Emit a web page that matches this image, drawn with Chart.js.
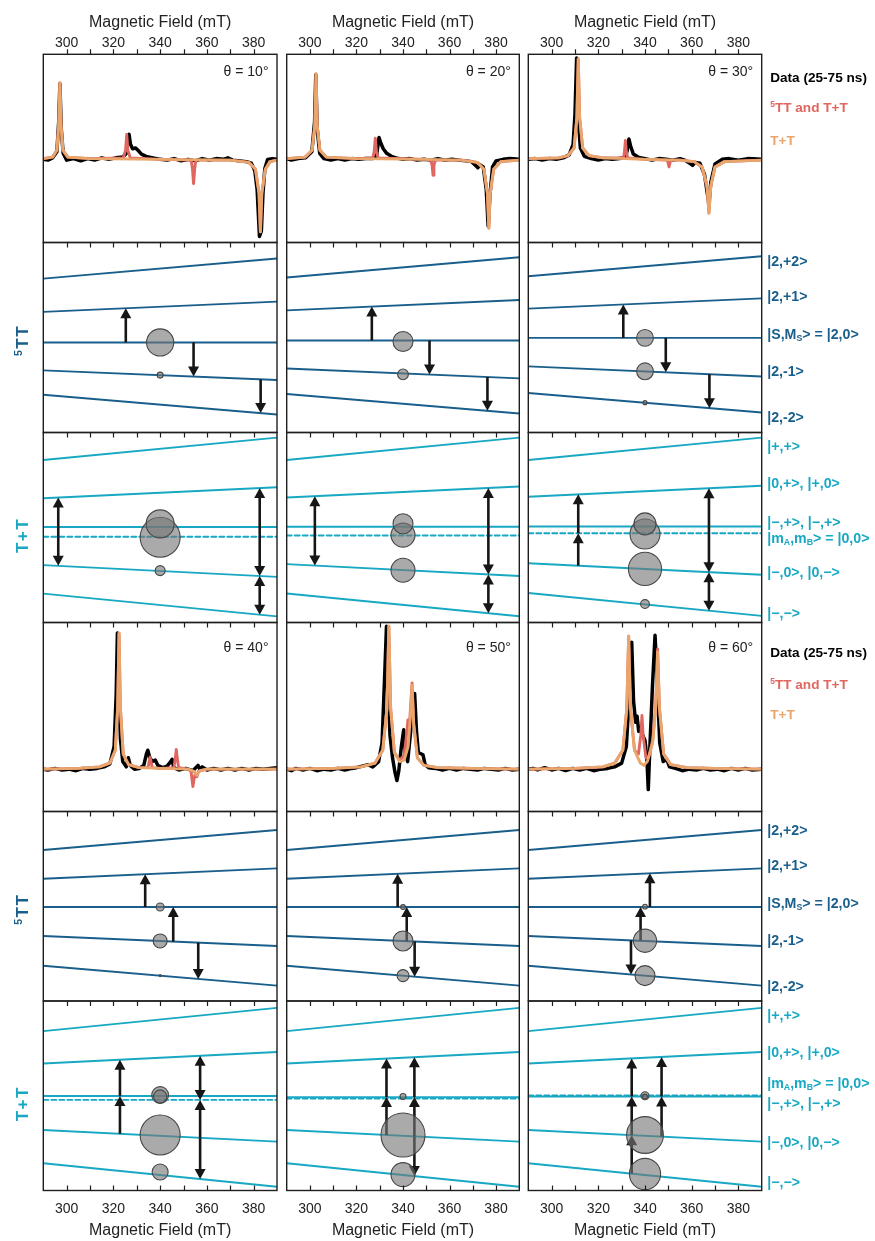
<!DOCTYPE html>
<html>
<head>
<meta charset="utf-8">
<script src="https://cdn.jsdelivr.net/npm/chart.js@4.4.0/dist/chart.umd.min.js"></script>
<style>
  body { margin: 0; background: #fff; }
  #fig { position: relative; width: 875px; height: 1241px; overflow: hidden; }
  #fig canvas { position: absolute; }
</style>
</head>
<body>
<div id="fig"></div>
<script>
// ---------- data ----------
const fieldTicks = [300, 320, 340, 360, 380];
const minorTicks = [300, 310, 320, 330, 340, 350, 360, 370, 380];
const anglesTop = [10, 20, 30];
const anglesBottom = [40, 50, 60];

// spectra: [field mT, intensity]
const data10 = [[290,0.0],[292,-0.01],[294,0.02],[295.8,0.1],[296.6,0.5],[297.1,1.0],[297.7,0.4],[298.5,0.08],[300,-0.01],[303,0.01],[306,-0.02],[309,0.01],[312,-0.01],[315,0.02],[318,0.0],[321,0.02],[324,0.03],[325.6,0.08],[326.3,0.3],[326.7,0.33],[327.3,0.2],[328.2,0.14],[329.5,0.15],[330.5,0.12],[332,0.07],[334,0.04],[337,0.02],[340,0.0],[343,-0.01],[346,0.01],[349,-0.02],[352,0.0],[355,-0.02],[358,0.01],[361,-0.01],[364,0.01],[367,0.0],[369,0.02],[371,-0.01],[374,-0.02],[377,-0.03],[379,-0.05],[380.5,-0.15],[381.5,-0.4],[382.5,-1.02],[383.3,-0.95],[384,-0.45],[384.8,-0.12],[386,0.0],[388,0.01],[390,0.0]];
const both10 = [[290,0.01],[294,0.03],[295.8,0.12],[296.6,0.45],[297.1,1.01],[297.6,0.45],[298.4,0.12],[300.5,0.03],[310,0.01],[324.2,0.02],[325.2,0.12],[325.7,0.33],[326.2,0.12],[327.2,0.02],[340,0],[353.3,-0.01],[353.8,-0.12],[354.3,-0.32],[354.8,-0.12],[355.3,-0.01],[370,-0.01],[378,-0.04],[380.8,-0.13],[382.3,-0.45],[382.9,-0.96],[383.5,-0.45],[385,-0.13],[387,-0.03],[390,-0.01]];
const tt10 = [[290,0.01],[294,0.03],[295.8,0.12],[296.6,0.45],[297.1,1.01],[297.6,0.45],[298.4,0.12],[300.5,0.03],[310,0.01],[340,0],[370,-0.01],[378,-0.04],[380.8,-0.13],[382.3,-0.45],[382.9,-0.96],[383.5,-0.45],[385,-0.13],[387,-0.03],[390,-0.01]];

const data20 = [[290,0.01],[292,-0.01],[295,0.01],[298,0.02],[300.8,0.1],[302,0.5],[302.5,1.12],[303.1,0.4],[304.2,0.08],[306,0.01],[309,-0.01],[312,0.01],[315,-0.01],[318,0.01],[321,0],[324,0.01],[327,0.01],[328.6,0.04],[329.2,0.18],[329.7,0.29],[330.4,0.22],[331.5,0.14],[333,0.08],[335,0.04],[337,0.02],[340,0],[343,0.01],[346,-0.01],[349,0.0],[352,-0.01],[355,0.01],[358,-0.01],[361,0.0],[364,-0.01],[367,-0.02],[369.5,-0.03],[371.2,-0.08],[372.2,-0.11],[373,-0.07],[374.5,-0.1],[375.8,-0.4],[376.6,-0.88],[377.3,-0.5],[378.5,-0.1],[380,-0.02],[383,0.0],[386,0.01],[390,0]];
const both20 = [[290,0.01],[298,0.03],[300.9,0.12],[302.1,0.45],[302.6,1.13],[303.1,0.45],[304.3,0.12],[307,0.03],[320,0.01],[327,0.02],[327.6,0.1],[328.1,0.28],[328.6,0.1],[329.3,0.02],[350,0],[352,-0.01],[352.5,-0.08],[352.9,-0.21],[353.3,-0.08],[353.9,-0.01],[365,-0.01],[372,-0.04],[374.8,-0.13],[376.3,-0.45],[376.9,-0.91],[377.5,-0.45],[379,-0.13],[382,-0.03],[390,-0.01]];
const tt20 = [[290,0.01],[298,0.03],[300.9,0.12],[302.1,0.45],[302.6,1.13],[303.1,0.45],[304.3,0.12],[307,0.03],[320,0.01],[350,0],[365,-0.01],[372,-0.04],[374.8,-0.13],[376.3,-0.45],[376.9,-0.91],[377.5,-0.45],[379,-0.13],[382,-0.03],[390,-0.01]];

const data30 = [[290,0.0],[293,0.01],[296,-0.01],[299,0.01],[302,0],[305,0.02],[307.5,0.06],[309.2,0.2],[310,0.6],[310.7,1.34],[311.3,0.6],[312.3,0.15],[314,0.04],[317,0.01],[320,-0.01],[323,0.01],[326,0],[329,0.01],[331.5,0.02],[332.4,0.12],[333.1,0.27],[333.8,0.18],[335,0.07],[337,0.03],[340,0.01],[343,-0.01],[346,0.01],[349,0],[352,-0.01],[355,0.01],[357,-0.01],[359.5,-0.06],[360.4,-0.08],[361.5,-0.04],[363.5,-0.05],[365.5,-0.2],[366.7,-0.45],[367.4,-0.58],[368.2,-0.3],[370,-0.06],[373,0],[376,0.01],[380,-0.01],[384,0.01],[390,0]];
const both30 = [[290,0.01],[303,0.02],[307,0.05],[309.6,0.15],[310.8,0.55],[311.4,1.33],[312,0.55],[313.3,0.15],[316,0.05],[322,0.02],[330.8,0.02],[331.2,0.1],[331.6,0.25],[332,0.1],[332.6,0.02],[340,0],[349.6,-0.01],[350.3,-0.1],[351,-0.01],[355,-0.01],[361,-0.03],[364.3,-0.1],[365.4,-0.22],[366.6,-0.38],[367.4,-0.71],[368.2,-0.35],[370,-0.1],[374,-0.03],[390,-0.01]];
const tt30 = [[290,0.01],[303,0.02],[307,0.05],[309.6,0.15],[310.8,0.55],[311.4,1.33],[312,0.55],[313.3,0.15],[316,0.05],[322,0.02],[340,0],[355,-0.01],[361,-0.03],[364.5,-0.1],[366.6,-0.35],[367.4,-0.71],[368.2,-0.35],[370,-0.1],[374,-0.03],[390,-0.01]];

const data40 = [[290,0],[292,-0.01],[295,0.01],[298,-0.01],[301,0],[304,-0.02],[307,0.01],[310,0],[313,0.01],[316,0.03],[318.5,0.07],[320.3,0.3],[321.2,1.0],[321.7,1.8],[322.3,1.2],[323,0.4],[324,0.1],[325.5,0.03],[326.4,0.15],[327.2,0.05],[329,0],[331,0.01],[333,0.05],[334.1,0.2],[334.7,0.25],[335.5,0.16],[336.5,0.1],[337.9,0.12],[339,0.05],[341,0.02],[343,0.04],[344.5,0.1],[345.1,0.13],[345.8,0.02],[348,-0.01],[351,0.01],[354,-0.02],[356.2,0.05],[357,0.0],[358,0.03],[360,-0.01],[363,0.01],[366,-0.01],[369,0.01],[372,-0.01],[375,0.01],[378,-0.01],[381,0.01],[384,0],[387,0.01],[390,0.02]];
const both40 = [[290,0],[305,0.01],[314,0.03],[318.5,0.08],[320.8,0.25],[321.8,0.8],[322.4,1.8],[323,0.8],[324.2,0.2],[326.5,0.06],[331,0.02],[334.8,0.02],[335.3,0.1],[335.7,0.16],[336.1,0.1],[336.6,0.02],[340,0.01],[345.9,0.02],[346.5,0.15],[346.9,0.26],[347.3,0.15],[347.9,0.02],[352,0],[353.2,-0.03],[353.7,-0.15],[354,-0.23],[354.4,-0.15],[355,-0.06],[355.7,-0.1],[356.4,-0.03],[360,0],[390,0]];
const tt40 = [[290,0],[305,0.01],[314,0.03],[318.5,0.08],[320.8,0.25],[321.8,0.8],[322.4,1.8],[323,0.8],[324.2,0.2],[326.5,0.06],[331,0.02],[340,0.01],[352,0],[354.5,-0.03],[355.7,-0.08],[357,-0.02],[360,0],[390,0]];

const data50 = [[290,0],[292,-0.02],[294,0.01],[297,-0.01],[300,0.01],[303,-0.02],[306,0],[309,-0.01],[312,0.01],[315,-0.01],[318,0.01],[320,0.02],[322.5,0.04],[325,0.06],[327,0.03],[329.5,0.1],[331,0.35],[332.2,1.3],[332.9,1.89],[333.5,1.2],[334.4,0.45],[335.5,0.15],[336.6,-0.05],[337.4,-0.15],[338.2,-0.02],[339.3,0.3],[340.3,0.52],[341,0.2],[342,0.1],[343.3,0.5],[344.2,0.95],[345,1.0],[345.8,0.5],[346.6,0.22],[348.6,0.19],[349.5,0.06],[351,0.02],[354,0.01],[357,-0.01],[360,0.01],[363,-0.01],[366,0.01],[369,0],[372,-0.01],[375,0.01],[378,0],[381,-0.01],[384,0.01],[387,-0.01],[390,0]];
const both50 = [[290,0],[310,0.01],[322,0.03],[328,0.08],[331.3,0.25],[333.1,0.8],[333.9,1.89],[334.7,0.8],[336.3,0.22],[338.5,0.12],[340.5,0.18],[341.7,0.5],[342.1,0.65],[342.8,0.6],[343.4,0.9],[343.9,1.14],[344.6,0.6],[346.2,0.15],[349,0.05],[355,0.02],[370,0.01],[390,0]];
const tt50 = [[290,0],[310,0.01],[322,0.03],[328,0.08],[331.3,0.25],[333.1,0.8],[333.9,1.89],[334.7,0.8],[336.3,0.22],[338.5,0.1],[340.5,0.12],[342.2,0.3],[343.2,0.7],[343.9,1.11],[344.6,0.6],[346.2,0.15],[349,0.05],[355,0.02],[370,0.01],[390,0]];

const data60 = [[290,0],[292,0.01],[294,-0.01],[297,0.02],[300,-0.01],[303,0.01],[306,-0.02],[309,0.01],[312,-0.01],[315,0.01],[318,-0.02],[321,0.0],[324,0.01],[327,0.03],[330,0.08],[332,0.3],[333.3,1.0],[334.3,1.68],[335.1,0.9],[336,0.62],[336.6,0.7],[337.3,0.5],[338.1,0.55],[339,0.45],[340,0.38],[340.8,0.15],[341.4,-0.27],[342.1,0.3],[343.2,1.1],[344.3,1.77],[345.2,1.2],[346.3,0.35],[347.8,0.1],[349.3,0.13],[350.5,0.03],[353,0.01],[356,-0.02],[359,0.0],[362,-0.01],[365,0.01],[368,-0.01],[371,0.0],[374,-0.02],[377,0.01],[380,-0.01],[383,0.01],[386,-0.01],[390,0]];
const both60 = [[290,0],[310,0.01],[322,0.03],[327,0.08],[330.5,0.25],[332.2,0.8],[333,1.76],[333.8,0.8],[335.5,0.25],[337.2,0.2],[338.2,0.45],[338.7,0.71],[339.2,0.45],[340.4,0.15],[341.5,0.15],[343.3,0.38],[344.6,0.85],[345.4,1.59],[346.2,0.8],[348,0.2],[351,0.06],[358,0.02],[370,0.01],[390,0]];
const tt60 = [[290,0],[310,0.01],[322,0.03],[327,0.08],[330.5,0.25],[332.2,0.8],[333,1.76],[333.8,0.8],[335.5,0.25],[338,0.08],[339.5,0.05],[341,0.1],[343.3,0.35],[344.6,0.8],[345.4,1.55],[346.2,0.8],[348,0.2],[351,0.06],[358,0.02],[370,0.01],[390,0]];

// energy levels: [energy at 290 mT, energy at 390 mT] (arbitrary units)
// 5TT order: |2,+2>, |2,+1>, |2,0>, |2,-1>, |2,-2>
const lv5tt10 = [[81.0,91.6],[63.5,68.9],[47.4,47.4],[32.7,27.6],[19.9,9.5]];
const lv5tt20 = [[81.6,92.2],[64.3,69.7],[48.4,48.4],[33.7,28.5],[20.3,10.0]];
const lv5tt30 = [[82.2,92.8],[65.2,70.6],[49.8,49.8],[34.8,29.5],[20.8,10.5]];
const lv5tt40 = [[79.7,90.2],[64.5,70.0],[49.6,49.6],[34.3,29.0],[18.6,8.1]];
const lv5tt50 = [[79.7,90.2],[64.5,70.0],[49.6,49.6],[34.3,29.0],[18.6,8.1]];
const lv5tt60 = [[79.7,90.2],[64.5,70.0],[49.6,49.6],[34.3,29.0],[18.6,8.1]];
// T+T order: |+,+>, |0,+>, |-,+>, |0,0> (dashed), |-,0>, |-,->
const lvtt10 = [[85.5,97.3],[65.4,71.2],[50.3,50.3],[45.1,45.1],[30.2,24.0],[15.2,3.2]];
const lvtt20 = [[85.5,97.3],[65.8,71.6],[50.4,50.4],[45.8,45.8],[30.7,24.5],[15.3,3.3]];
const lvtt30 = [[85.5,97.3],[66.2,72.0],[50.5,50.5],[47.0,47.0],[31.2,25.1],[15.5,3.5]];
const lvtt40 = [[84.1,96.4],[67.0,73.1],[49.9,49.9],[47.8,47.8],[31.9,25.8],[14.4,2.0]];
const lvtt50 = [[84.1,96.4],[67.0,73.1],[49.3,49.3],[48.5,48.5],[31.9,25.8],[14.4,2.0]];
const lvtt60 = [[84.1,96.4],[67.0,73.1],[49.6,49.6],[50.2,50.2],[31.9,25.8],[14.4,2.0]];

// populations at 340 mT: [energy, relative population]
const pop5tt10 = [[47.4,0.68],[30.2,0.15]];
const pop5tt20 = [[47.9,0.5],[30.6,0.27]];
const pop5tt30 = [[49.8,0.42],[32.2,0.42],[15.7,0.1]];
const pop5tt40 = [[49.6,0.2],[31.7,0.35],[13.4,0.05]];
const pop5tt50 = [[49.6,0.12],[31.7,0.5],[13.4,0.3]];
const pop5tt60 = [[49.8,0.12],[31.8,0.58],[13.4,0.5]];
const poptt10 = [[44.9,1.0],[51.9,0.7],[27.3,0.25]];
const poptt20 = [[46.0,0.6],[52.0,0.5],[27.5,0.6]];
const poptt30 = [[46.6,0.75],[51.9,0.55],[28.2,0.83],[9.7,0.22]];
const poptt40 = [[50.4,0.42],[49.6,0.33],[29.3,1.0],[9.8,0.4]];
const poptt50 = [[49.6,0.15],[29.3,1.1],[8.4,0.6]];
const poptt60 = [[50.0,0.2],[49.6,0.12],[29.3,0.92],[8.7,0.78]];

// transitions: [field mT, from level, to level, heads (1 single, 2 double)]
const tr5tt10 = [[325.3,2,1,1],[354.3,2,3,1],[383,3,4,1]];
const tr5tt20 = [[326.6,2,1,1],[351.4,2,3,1],[376.3,3,4,1]];
const tr5tt30 = [[330.7,2,1,1],[348.9,2,3,1],[367.6,3,4,1]];
const tr5tt40 = [[333.6,2,1,1],[345.6,3,2,1],[356.3,3,4,1]];
const tr5tt50 = [[337.7,2,1,1],[341.6,3,2,1],[345,3,4,1]];
const tr5tt60 = [[342.1,2,1,1],[338.1,3,2,1],[334,3,4,1]];
const trtt10 = [[296.4,1,4,2],[382.6,1,4,2],[382.6,4,5,2]];
const trtt20 = [[302.1,1,4,2],[376.7,1,4,2],[376.7,4,5,2]];
const trtt30 = [[311.4,4,3,1],[311.4,3,1,1],[367.4,1,4,2],[367.4,4,5,2]];
const trtt40 = [[322.8,4,2,1],[322.8,2,1,1],[357.1,1,3,2],[357.1,3,5,2]];
const trtt50 = [[332.9,4,2,1],[332.9,2,1,1],[344.9,4,2,1],[344.9,2,1,1],[344.9,4,5,1]];
const trtt60 = [[334.3,5,4,1],[334.3,4,2,1],[334.3,2,1,1],[347.1,4,2,1],[347.1,2,1,1]];

const labels5tt = ['|2,+2>', '|2,+1>', '|S,M_S> = |2,0>', '|2,-1>', '|2,-2>'];
const labelsTT = ['|+,+>', '|0,+>, |+,0>', '|−,+>, |−,+>', '|m_A,m_B> = |0,0>', '|−,0>, |0,−>', '|−,−>'];
const legendLabels = ['Data (25-75 ns)', '^5TT and T+T', 'T+T'];

// ---------- layout / style ----------
const colL = [43.3, 286.7, 528.3], colR = [277, 519.3, 761.7];
const rowT = [54.3, 242.5, 432.5, 622.5, 811.5, 1001], rowB = [242.5, 432.5, 622.5, 811.5, 1001, 1190.5];
const C5TT = '#1a5f8b', CTT = '#18a8c3', CDATA = '#000', CBOTH = '#e0675f', CTTFIT = '#e9a66c';
const FONT = '"Liberation Sans", Arial, Helvetica, sans-serif';
const lab5Off = [18.3, 53.8, 91.5, 128.8, 174.3];
const labTTOff = [[13.2, 50.8, 89.2, 105.8, 139.8, 180.2], [14, 51.3, 102.3, 82.3, 140.7, 180.7]];
const legOff = [[23, 53, 85.7], [29.2, 61.5, 91.8]];
const thetaOff = [17, 24];

const spectra = {10: [data10, both10, tt10], 20: [data20, both20, tt20], 30: [data30, both30, tt30],
                 40: [data40, both40, tt40], 50: [data50, both50, tt50], 60: [data60, both60, tt60]};
const levels5 = {10: lv5tt10, 20: lv5tt20, 30: lv5tt30, 40: lv5tt40, 50: lv5tt50, 60: lv5tt60};
const levelsT = {10: lvtt10, 20: lvtt20, 30: lvtt30, 40: lvtt40, 50: lvtt50, 60: lvtt60};
const pops5 = {10: pop5tt10, 20: pop5tt20, 30: pop5tt30, 40: pop5tt40, 50: pop5tt50, 60: pop5tt60};
const popsT = {10: poptt10, 20: poptt20, 30: poptt30, 40: poptt40, 50: poptt50, 60: poptt60};
const trans5 = {10: tr5tt10, 20: tr5tt20, 30: tr5tt30, 40: tr5tt40, 50: tr5tt50, 60: tr5tt60};
const transT = {10: trtt10, 20: trtt20, 30: trtt30, 40: trtt40, 50: trtt50, 60: trtt60};

// text with ^x superscript and _x subscript
function richText(ctx, str, x, y, size, weight, align) {
  const segs = [];
  let cur = '';
  for (let i = 0; i < str.length; i++) {
    const ch = str[i];
    if ((ch === '^' || ch === '_') && i + 1 < str.length) {
      if (cur) segs.push({t: cur, k: 0});
      cur = '';
      segs.push({t: str[i + 1], k: ch === '^' ? 1 : -1});
      i++;
    } else cur += ch;
  }
  if (cur) segs.push({t: cur, k: 0});
  const small = size * 0.62;
  let total = 0;
  segs.forEach(s => {
    ctx.font = `${weight} ${s.k ? small : size}px ${FONT}`;
    s.w = ctx.measureText(s.t).width;
    total += s.w;
  });
  let px = align === 'center' ? x - total / 2 : (align === 'right' ? x - total : x);
  const base = y + size * 0.36;
  ctx.textAlign = 'left';
  ctx.textBaseline = 'alphabetic';
  segs.forEach(s => {
    ctx.font = `${weight} ${s.k ? small : size}px ${FONT}`;
    const dy = s.k === 1 ? -size * 0.38 : (s.k === -1 ? size * 0.12 : 0);
    ctx.fillText(s.t, px, base + dy);
    px += s.w;
  });
}

function drawArrow(ctx, x, ya, yb, heads) {
  const dir = yb < ya ? -1 : 1;
  const hl = 10, hw = 5.5;
  ctx.save();
  ctx.strokeStyle = '#161616';
  ctx.fillStyle = '#161616';
  ctx.lineWidth = 2.6;
  ctx.beginPath();
  ctx.moveTo(x, heads === 2 ? ya + dir * hl * 0.8 : ya);
  ctx.lineTo(x, yb - dir * hl * 0.8);
  ctx.stroke();
  const head = (tipY, d) => {
    ctx.beginPath();
    ctx.moveTo(x, tipY);
    ctx.lineTo(x - hw, tipY - d * hl);
    ctx.lineTo(x + hw, tipY - d * hl);
    ctx.closePath();
    ctx.fill();
  };
  head(yb, dir);
  if (heads === 2) head(ya, -dir);
  ctx.restore();
}

function levelAt(lv, f) {
  return lv[0] + (lv[1] - lv[0]) * (f - 290) / 100;
}

function makePlugin(p) {
  return {
    id: 'panel' + p.row + p.col,
    afterDatasetDraw(chart, args) {
      if (!p.trans || args.index !== 1) return;
      const xs = chart.scales.x, ys = chart.scales.y;
      p.trans.forEach(([f, a, b, h]) => {
        const x = xs.getPixelForValue(f);
        drawArrow(chart.ctx, x, ys.getPixelForValue(levelAt(p.levels[a], f)), ys.getPixelForValue(levelAt(p.levels[b], f)), h);
      });
    },
    afterDraw(chart) {
      const ctx = chart.ctx, ca = chart.chartArea, xs = chart.scales.x;
      ctx.save();
      // frame
      ctx.strokeStyle = '#1e1e1e';
      ctx.lineWidth = 1.4;
      ctx.strokeRect(ca.left, ca.top, ca.right - ca.left, ca.bottom - ca.top);
      // ticks
      ctx.lineWidth = 1.2;
      ctx.beginPath();
      minorTicks.forEach(v => {
        const x = Math.round(xs.getPixelForValue(v)) + 0.5;
        if (p.row === 0) { ctx.moveTo(x, ca.top); ctx.lineTo(x, ca.top - 5); }
        else { ctx.moveTo(x, ca.top); ctx.lineTo(x, ca.top + 5); }
        if (p.row === 5) { ctx.moveTo(x, ca.bottom); ctx.lineTo(x, ca.bottom - 5); }
      });
      ctx.stroke();
      ctx.fillStyle = '#222';
      if (p.row === 0 || p.row === 5) {
        const ly = p.row === 0 ? ca.top - 12.6 : ca.bottom + 17.5;
        const ty = p.row === 0 ? ca.top - 33.5 : ca.bottom + 38.5;
        fieldTicks.forEach(v => richText(ctx, String(v), xs.getPixelForValue(v), ly, 14, 'normal', 'center'));
        richText(ctx, 'Magnetic Field (mT)', (ca.left + ca.right) / 2, ty, 16, 'normal', 'center');
      }
      if (p.kind === 'spec') {
        const k = p.row === 0 ? 0 : 1;
        ctx.fillStyle = '#222';
        richText(ctx, 'θ = ' + p.angle + '°', ca.right - 8.5, ca.top + thetaOff[k], 14, 'normal', 'right');
        if (p.col === 2) {
          const cols = [CDATA, CBOTH, CTTFIT];
          legendLabels.forEach((t, i) => {
            ctx.fillStyle = cols[i];
            richText(ctx, t, ca.right + 8.5, ca.top + legOff[k][i], 13.6, 'bold', 'left');
          });
        }
      } else {
        const isT = p.kind === 'tt';
        const color = isT ? CTT : C5TT;
        if (p.col === 0) {
          ctx.save();
          ctx.fillStyle = color;
          ctx.translate(22, (ca.top + ca.bottom) / 2 + (isT ? 8 : 3));
          ctx.rotate(-Math.PI / 2);
          ctx.letterSpacing = '1.5px';
          richText(ctx, isT ? 'T+T' : '^5TT', 0, 0, 17, 'bold', 'center');
          ctx.restore();
        }
        if (p.col === 2) {
          ctx.fillStyle = color;
          const labs = isT ? labelsTT : labels5tt;
          const offs = isT ? labTTOff[p.row === 2 ? 0 : 1] : lab5Off;
          labs.forEach((t, i) => richText(ctx, t, ca.right + 5.5, ca.top + offs[i], 14.2, 'bold', 'left'));
        }
      }
      ctx.restore();
    }
  };
}

function lineSet(pairs, color, width, dash) {
  return {
    data: pairs.map(([x, y]) => ({x, y})),
    showLine: true, borderColor: color, borderWidth: width, pointRadius: 0,
    borderDash: dash || [], tension: 0, borderJoinStyle: 'round', borderCapStyle: 'round'
  };
}

const fig = document.getElementById('fig');
for (let row = 0; row < 6; row++) {
  for (let col = 0; col < 3; col++) {
    const angle = (row < 3 ? anglesTop : anglesBottom)[col];
    const kind = ['spec', '5tt', 'tt'][row % 3];
    const p = {row, col, angle, kind};
    let datasets, ymin, ymax;
    if (kind === 'spec') {
      const [d, b, t] = spectra[angle];
      datasets = [lineSet(t, CTTFIT, 2.9), lineSet(b, CBOTH, 2.9), lineSet(d, CDATA, 3.5)];
      ymin = row === 0 ? -1.1 : -0.56;
      ymax = row === 0 ? 1.39 : 1.94;
    } else {
      const isT = kind === 'tt';
      p.levels = isT ? levelsT[angle] : levels5[angle];
      p.trans = isT ? transT[angle] : trans5[angle];
      const pops = isT ? popsT[angle] : pops5[angle];
      const color = isT ? CTT : C5TT;
      datasets = [{
        type: 'bubble',
        data: pops.map(([e, w]) => ({x: 340, y: e, r: w * 20})),
        backgroundColor: 'rgba(118,118,118,0.62)', borderColor: '#474747', borderWidth: 1.1
      }];
      p.levels.forEach((lv, i) => {
        datasets.push(lineSet([[290, lv[0]], [390, lv[1]]], color, 1.9, isT && i === 3 ? [5, 3] : null));
      });
      ymin = 0; ymax = 100;
    }
    const x0 = col === 0 ? 0 : Math.floor(colL[col]) - 5;
    const x1 = col === 2 ? 875 : Math.ceil(colR[col]) + 5;
    const y0 = row === 0 ? 0 : Math.floor(rowT[row]) - 14;
    const y1 = row === 5 ? 1241 : Math.ceil(rowB[row]) + 14;
    const cv = document.createElement('canvas');
    cv.width = x1 - x0; cv.height = y1 - y0;
    cv.style.left = x0 + 'px'; cv.style.top = y0 + 'px';
    fig.appendChild(cv);
    new Chart(cv, {
      type: 'scatter',
      data: {datasets},
      options: {
        responsive: false, animation: false, events: [],
        layout: {autoPadding: false, padding: {left: colL[col] - x0, right: x1 - colR[col], top: rowT[row] - y0, bottom: y1 - rowB[row]}},
        scales: {
          x: {type: 'linear', min: 290, max: 390, display: false},
          y: {type: 'linear', min: ymin, max: ymax, display: false}
        },
        plugins: {legend: {display: false}, tooltip: {enabled: false}}
      },
      plugins: [makePlugin(p)]
    });
  }
}
</script>
</body>
</html>
